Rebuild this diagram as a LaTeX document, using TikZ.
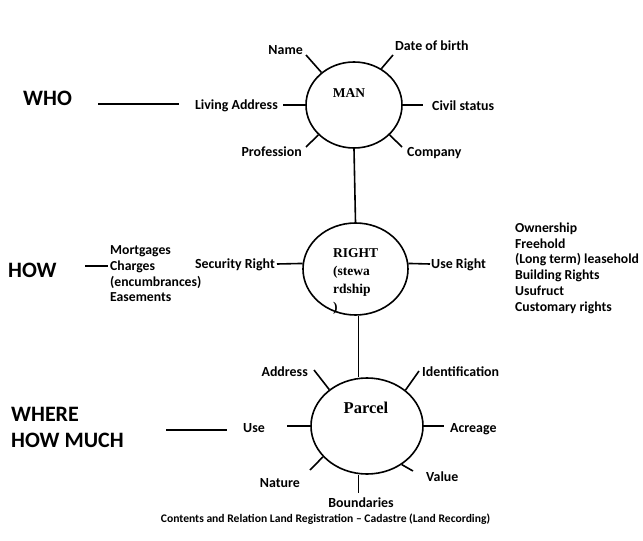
\documentclass[tikz,border=0pt]{standalone}
\usepackage{fontspec}
\setmainfont{Carlito}
\newfontfamily\serifb{Liberation Serif}
\usetikzlibrary{shapes.geometric,calc}
\begin{document}
\begin{tikzpicture}[x=1pt,y=-1pt,
  lbl/.style={font=\fontsize{13.9}{15.8}\selectfont\bfseries, inner sep=0pt, text height=9pt, text depth=0pt},
  lst/.style={font=\fontsize{13.7}{15.8}\selectfont\bfseries, inner sep=0pt, align=left, anchor=north west},
  big/.style={font=\fontsize{22}{26}\selectfont\bfseries, inner sep=0pt, align=left},
  oval/.style={draw, ellipse, line width=1.6pt, inner sep=0pt},
  spoke/.style={line width=1.6pt},
  ctr/.style={font=\fontsize{13.5}{18}\selectfont\serifb\bfseries, inner sep=0pt}]
\useasboundingbox (0,0) rectangle (643,541);

% ---------- MAN ----------
\node[oval, minimum width=96pt, minimum height=86pt] (man) at (354,105) {};
\node[ctr] (mant) at (349,93) {MAN};
\node[lbl, anchor=east] (name) at (303,50) {Name};
\node[lbl, anchor=west] (dob) at (395,46) {Date of birth};
\node[lbl, anchor=west] (civ) at (432,106) {Civil status};
\node[lbl, anchor=east] (liv) at (278,105) {Living Address};
\node[lbl, anchor=east] (prof) at (302,152) {Profession};
\node[lbl, anchor=west] (comp) at (407,152) {Company};
\coordinate (nameE) at (306,55);
\coordinate (dobE) at (393,55);
\coordinate (civE) at (423,105);
\coordinate (livE) at (283,105);
\coordinate (profE) at (306,147);
\coordinate (compE) at (402,147);
\draw[spoke] (man.135) -- (nameE);
\draw[spoke] (man.53) -- (dobE);
\draw[spoke] (man.0) -- (civE);
\draw[spoke] (man.180) -- (livE);
\draw[spoke] (man.220) -- (profE);
\draw[spoke] (man.320) -- (compE);

\node[big, anchor=west] (who) at (23,98) {WHO};
\coordinate (who1) at (98,104);
\coordinate (who2) at (179,104);
\draw[spoke] (who1) -- (who2);

% ---------- RIGHT ----------
\node[oval, minimum width=105pt, minimum height=92pt] (right) at (355.5,269) {};
\node[ctr, align=left, anchor=north west] (rightt) at (333,248.5) {RIGHT\\(stewa\\rdship\\)};
\draw[spoke] (man.south) -- (right.north);
\node[lbl, anchor=east] (sec) at (275,264) {Security Right};
\node[lbl, anchor=west] (use) at (431,264) {Use Right};
\coordinate (secE) at (277,264);
\coordinate (useE) at (430,264);
\draw[spoke] (right.174) -- (secE);
\draw[spoke] (right.6) -- (useE);
\node[lst] (secl) at (110,245.5) {Mortgages\\Charges\\(encumbrances)\\Easements};
\node[lst] (usel) at (515,222.5) {Ownership\\Freehold\\(Long term) leasehold\\Building Rights\\Usufruct\\Customary rights};
\node[big, anchor=west] (how) at (8,270) {HOW};
\coordinate (how1) at (85,266);
\coordinate (how2) at (108,266);
\draw[spoke] (how1) -- (how2);

% ---------- PARCEL ----------
\node[oval, minimum width=112pt, minimum height=96pt] (parcel) at (367,426) {};
\node[font=\fontsize{16.5}{20}\selectfont\serifb\bfseries, inner sep=0pt] (parcelt) at (366,408) {Parcel};
\coordinate (vx) at (358.5,0);
\draw[spoke] (right.south -| vx) -- (parcel.north -| vx);
\node[lbl, anchor=east] (addr) at (308,372) {Address};
\node[lbl, anchor=west] (ident) at (422,372) {Identification};
\node[lbl, anchor=east] (usep) at (265,428) {Use};
\node[lbl, anchor=west] (acre) at (450,428) {Acreage};
\node[lbl, anchor=east] (nat) at (300,483) {Nature};
\node[lbl, anchor=west] (val) at (426,477) {Value};
\node[lbl] (bound) at (361,503) {Boundaries};
\coordinate (addrE) at (314,370);
\coordinate (identE) at (419,371);
\coordinate (usepE) at (287,426);
\coordinate (acreE) at (444,426);
\coordinate (natE) at (310,470);
\coordinate (valE) at (413,471);
\coordinate (boundE) at (358.5,493);
\draw[spoke] (parcel.136.5) -- (addrE);
\draw[spoke] (parcel.43.5) -- (identE);
\draw[spoke] (parcel.180) -- (usepE);
\draw[spoke] (parcel.0) -- (acreE);
\draw[spoke] (parcel.215) -- (natE);
\draw[spoke] (parcel.312.5) -- (valE);
\draw[spoke] (parcel.south -| vx) -- (boundE);

\node[big, anchor=north west] (where) at (11,407) {WHERE\\HOW MUCH};
\coordinate (wh1) at (166,430);
\coordinate (wh2) at (227,430);
\draw[spoke] (wh1) -- (wh2);

\node[font=\fontsize{11.6}{13}\selectfont\bfseries, inner sep=0pt] (cap) at (325.5,519) {Contents and Relation Land Registration -- Cadastre (Land Recording)};
\end{tikzpicture}
\end{document}
